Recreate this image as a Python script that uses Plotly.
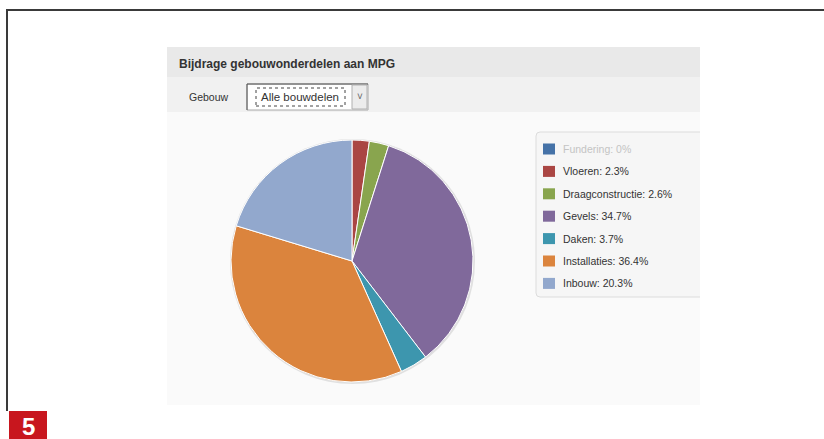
import plotly.graph_objects as go

# ---- data ----
categories = ["Fundering", "Vloeren", "Draagconstructie", "Gevels", "Daken", "Installaties", "Inbouw"]
shares = [0, 2.3, 2.6, 34.7, 3.7, 36.4, 20.3]
colors = ["#4572A7", "#AA4643", "#89A54E", "#80699B", "#3D96AE", "#DB843D", "#92A8CD"]
legend_text_colors = ["#c4c4c4", "#333333", "#333333", "#333333", "#333333", "#333333", "#333333"]
chart_title = "Bijdrage gebouwonderdelen aan MPG"
filter_label = "Gebouw"
filter_value = "Alle bouwdelen"
figure_number = "5"

W, H = 824, 439
FONT = "Liberation Sans, Arial, sans-serif"


def px(x):
    return x / W


def py(y):
    return 1 - y / H


shapes = []
annotations = []


def rect(x0, y0, x1, y1, fill, line=None, lw=0, layer="below", dash=None):
    d = dict(type="rect", xref="paper", yref="paper",
             x0=px(x0), x1=px(x1), y0=py(y1), y1=py(y0),
             fillcolor=fill, layer=layer,
             line=dict(color=line or "rgba(0,0,0,0)", width=lw))
    if dash:
        d["line"]["dash"] = dash
    shapes.append(d)


def line(x0, y0, x1, y1, color, width, layer="above"):
    shapes.append(dict(type="line", xref="paper", yref="paper",
                       x0=px(x0), x1=px(x1), y0=py(y0), y1=py(y1),
                       line=dict(color=color, width=width), layer=layer))


def text(x, y, s, size, color="#333333", bold=False, xanchor="left", yanchor="middle"):
    annotations.append(dict(x=px(x), y=py(y), xref="paper", yref="paper",
                            text=f"<b>{s}</b>" if bold else s, showarrow=False,
                            xanchor=xanchor, yanchor=yanchor,
                            font=dict(family=FONT, size=size, color=color)))


# outer frame
line(6, 10, 824, 10, "#3a3a3a", 2)
line(7, 10, 7, 411, "#3a3a3a", 2)

# red figure number box
rect(9, 411, 47, 439, "#c8161e", layer="above")
text(28, 426, figure_number, 24, color="white", bold=True, xanchor="center")

# panel
rect(167, 47, 700, 405, "#fafafa")
rect(167, 47, 700, 77, "#e9e9e9")
rect(167, 77, 700, 112, "#f1f1f1")
text(177, 64, chart_title, 12, bold=True)
text(187, 97, filter_label, 10.5)

# dropdown
rect(247, 84, 368, 110, "white", line="#a8a8a8", lw=1)
line(247, 84, 368, 84, "#555555", 1, layer="below")
line(247, 84, 247, 110, "#555555", 1, layer="below")
rect(352, 85, 367, 109, "#ececec", line="#b0b0b0", lw=1)
rect(256, 88, 345, 106, "rgba(0,0,0,0)", line="#444444", lw=1, dash="dot")
text(259, 97, filter_value, 11.5)
text(359.5, 96, "\u02c5", 10, color="#666666", xanchor="center")

# legend box (cut off at panel's right edge, no right border)
lx0, ly0, lx1, ly1, r = 536, 132, 700, 297, 4
path = (f"M {px(lx1)} {py(ly0)} L {px(lx0 + r)} {py(ly0)} "
        f"Q {px(lx0)} {py(ly0)} {px(lx0)} {py(ly0 + r)} "
        f"L {px(lx0)} {py(ly1 - r)} Q {px(lx0)} {py(ly1)} {px(lx0 + r)} {py(ly1)} "
        f"L {px(lx1)} {py(ly1)}")
shapes.append(dict(type="path", xref="paper", yref="paper", path=path,
                   fillcolor="#f6f6f6", line=dict(color="#dcdcdc", width=1), layer="below"))

for i, (cat, val) in enumerate(zip(categories, shares)):
    yc = 149 + i * 22.4
    rect(543, yc - 5.5, 555, yc + 5.5, colors[i], layer="above")
    text(561, yc, f"{cat}: {val:g}%", 10.5, color=legend_text_colors[i])

# pie shadow
cx, cy, rad = 352, 261, 121
shapes.append(dict(type="circle", xref="paper", yref="paper",
                   x0=px(cx - rad - 1), x1=px(cx + rad + 2),
                   y0=py(cy + rad + 2), y1=py(cy - rad - 1),
                   fillcolor="rgba(0,0,0,0.10)", line=dict(width=0), layer="below"))

fig = go.Figure(go.Pie(
    labels=categories,
    values=shares,
    marker=dict(colors=colors, line=dict(color="white", width=1)),
    sort=False,
    direction="clockwise",
    rotation=0,
    textinfo="none",
    hoverinfo="label+percent",
    domain=dict(x=[px(cx - rad), px(cx + rad)], y=[py(cy + rad), py(cy - rad)]),
))

fig.update_layout(
    width=W, height=H,
    margin=dict(l=0, r=0, t=0, b=0),
    paper_bgcolor="white",
    plot_bgcolor="white",
    showlegend=False,
    shapes=shapes,
    annotations=annotations,
    font=dict(family=FONT),
)

fig.write_html("out.html", config={"displayModeBar": False},
               post_script="document.body.style.margin='0';document.body.style.overflow='hidden';")
